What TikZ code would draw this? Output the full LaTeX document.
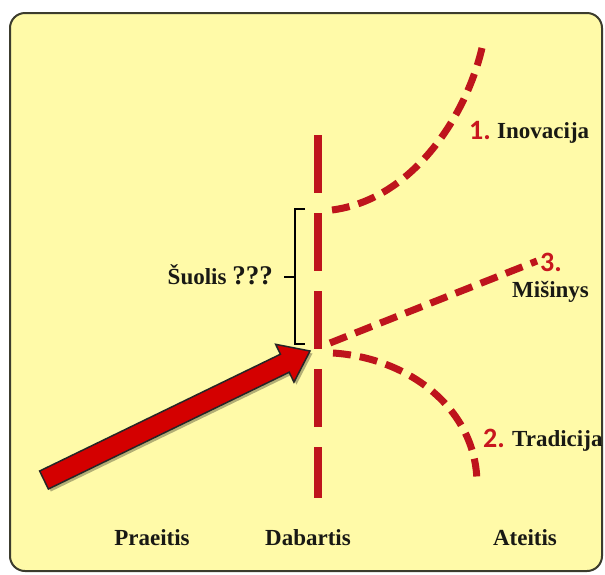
\documentclass[tikz,border=0pt]{standalone}
\usepackage{fontspec}
\setmainfont{Liberation Serif}
\newfontfamily\numfont{Carlito}
\usetikzlibrary{calc}
\definecolor{bgyellow}{RGB}{255,250,168}
\definecolor{dashred}{RGB}{190,20,28}
\definecolor{numred}{RGB}{200,22,30}
\definecolor{arrowred}{RGB}{212,0,0}
\definecolor{framecol}{RGB}{60,60,45}
\definecolor{textcol}{RGB}{25,25,20}
\begin{document}
\begin{tikzpicture}[x=1pt,y=-1pt,
  lbl/.style={font=\fontsize{23}{26}\selectfont\bfseries, text=textcol, inner sep=0pt},
  num/.style={font=\numfont\fontsize{28}{30}\selectfont\bfseries, text=numred, inner sep=0pt},
  timeline/.style={draw=dashred, line width=8pt, dash pattern=on 58pt off 20pt},
  futurepath/.style={draw=dashred, line width=7pt, dash pattern=on 18pt off 9pt},
  bracketline/.style={draw=black, line width=1.6pt},
  bigarrow/.style={fill=arrowred, draw=black!85, line width=1.5pt, line join=miter}]
\useasboundingbox (0,0) rectangle (605,574);
\fill[white] (0,0) rectangle (605,574);
\draw[fill=bgyellow, draw=framecol, line width=2pt, rounded corners=15pt] (10,13) rectangle (602,571);

% time line (present)
\coordinate (nowtop) at (318,135);
\coordinate (nowbot) at (318,498);
\draw[timeline] (nowtop) -- (nowbot);

% future paths
\coordinate (inoS) at (332,210);
\coordinate (inoE) at (482,48);
\coordinate (misS) at (330,343);
\coordinate (misE) at (537,261);
\coordinate (traS) at (333,353);
\coordinate (traE) at (477,484);
\draw[futurepath] (inoE) .. controls (465,120) and (410,200) .. (inoS);
\draw[futurepath] (misS) -- (misE);
\draw[futurepath] (traS) .. controls (410,358) and (477,410) .. (traE);

% labels of the paths
\node[num, anchor=base west] (n1) at (469,139) {1.};
\node[lbl, anchor=base west] (ino) at (497,138) {Inovacija};
\node[num, anchor=base west] (n3) at (540,271) {3.};
\node[lbl, anchor=base west] (mis) at (512,297) {Mišinys};
\node[num, anchor=base west] (n2) at (483,447) {2.};
\node[lbl, anchor=base west] (tra) at (512,446) {Tradicija};

% bracket
\coordinate (brT) at (305,209);
\coordinate (brTc) at (295,209);
\coordinate (brB) at (305,344);
\coordinate (brBc) at (295,344);
\coordinate (brM) at (295,277);
\coordinate (brTick) at (284,277);
\draw[bracketline] (brT) -- (brTc) -- (brBc) -- (brB);
\draw[bracketline] (brM) -- (brTick);
\node[lbl, anchor=base east] (jump) at (273,284) {Šuolis {\fontsize{27}{28}\selectfont ???}};

% big arrow from the past to the present
\coordinate (past) at (44,480);
\coordinate (now) at (310,351);
\coordinate (hb) at ($(now)!28pt!(past)$);
\coordinate (tl) at ($(past)!10pt!90:(now)$);
\coordinate (tr) at ($(past)!10pt!-90:(now)$);
\coordinate (bl) at ($(hb)!10pt!90:(now)$);
\coordinate (br) at ($(hb)!10pt!-90:(now)$);
\coordinate (wl) at ($(hb)!21pt!90:(now)$);
\coordinate (wr) at ($(hb)!21pt!-90:(now)$);
\fill[black, opacity=.3, transform canvas={shift={(2.5pt,-2.5pt)}}] (tl) -- (bl) -- (wl) -- (now) -- (wr) -- (br) -- (tr) -- cycle;
\path[bigarrow] (tl) -- (bl) -- (wl) -- (now) -- (wr) -- (br) -- (tr) -- cycle;

% time labels
\node[lbl, anchor=base] (pastlbl) at (152,545) {Praeitis};
\node[lbl, anchor=base] (nowlbl) at (308,545) {Dabartis};
\node[lbl, anchor=base] (futlbl) at (525,545) {Ateitis};
\end{tikzpicture}
\end{document}
